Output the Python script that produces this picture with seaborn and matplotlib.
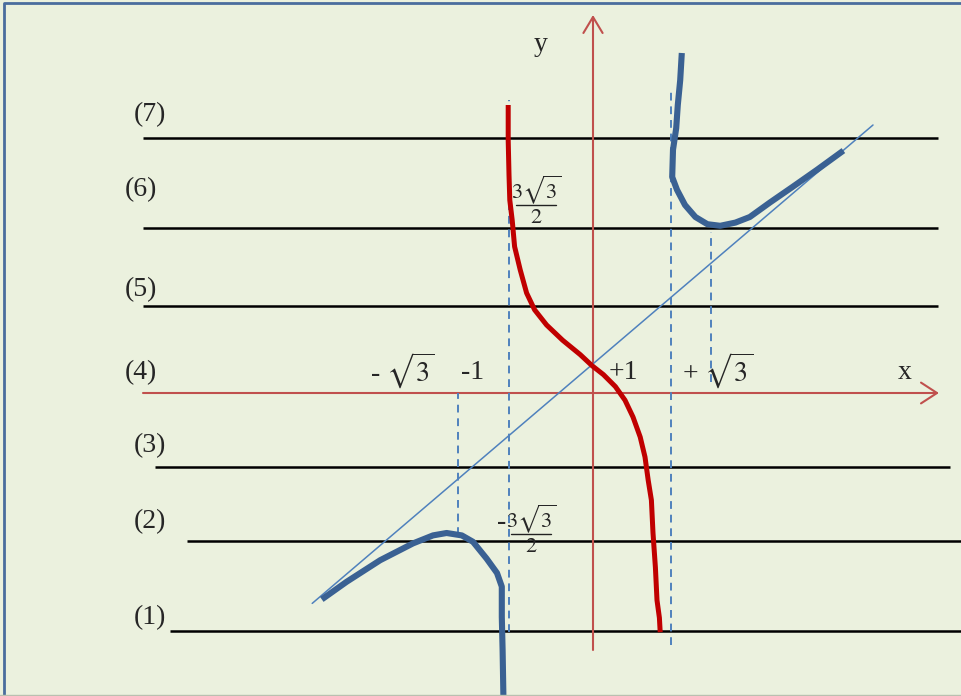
import numpy as np
import pandas as pd
import matplotlib.pyplot as plt
import seaborn as sns

# curve points (1 unit ~ 80 px, origin where the axes cross)
red_x = [-1.06, -1.06, -1.05, -1.04, -1.01, -0.98, -0.91, -0.83, -0.73, -0.58,
         -0.38, -0.16, -0.01, 0.13, 0.28, 0.40, 0.50, 0.59, 0.65, 0.69,
         0.73, 0.75, 0.78, 0.80, 0.83, 0.84]
red_y = [3.60, 3.16, 2.73, 2.41, 2.16, 1.83, 1.54, 1.25, 1.04, 0.85,
         0.66, 0.48, 0.34, 0.23, 0.08, -0.09, -0.30, -0.55, -0.80, -1.09,
         -1.34, -1.75, -2.18, -2.59, -2.81, -2.99]

left_x = [-3.39, -3.08, -2.66, -2.25, -2.00, -1.83, -1.64, -1.50, -1.33, -1.20,
          -1.14, -1.14, -1.13, -1.12]
left_y = [-2.58, -2.36, -2.09, -1.88, -1.78, -1.75, -1.78, -1.86, -2.07, -2.25,
          -2.42, -2.80, -3.21, -3.79]

right_x = [1.11, 1.09, 1.06, 1.04, 1.00, 0.99, 1.05, 1.15, 1.28, 1.43,
           1.59, 1.78, 1.96, 2.21, 2.50, 2.80, 3.13]
right_y = [4.25, 3.91, 3.60, 3.31, 3.04, 2.70, 2.54, 2.35, 2.20, 2.11,
           2.09, 2.13, 2.20, 2.38, 2.58, 2.79, 3.03]

# oblique asymptote end points
obl_x = [-3.51, 3.50]
obl_y = [-2.63, 3.35]

# horizontal levels (1)..(7), (4) is the x axis
level_names = ['(1)', '(2)', '(3)', '(4)', '(5)', '(6)', '(7)']
level_y = [-2.98, -1.85, -0.93, 0.0, 1.09, 2.06, 3.19]
level_x0 = [-5.29, -5.08, -5.48, None, -5.62, -5.62, -5.62]
level_x1 = [4.62, 4.62, 4.46, None, 4.31, 4.31, 4.31]
label_pos = [(-5.54, -2.81), (-5.54, -1.61), (-5.54, -0.66), (-5.65, 0.26),
             (-5.65, 1.29), (-5.65, 2.54), (-5.54, 3.48)]

# dashed verticals: x, y bottom, y top
dash_x = [-1.69, -1.05, 0.975, 1.475]
dash_y0 = [-1.78, -2.99, -3.15, 0.14]
dash_y1 = [0.0, 3.66, 3.76, 2.01]

tick_text = ['- $\\sqrt{3}$', '-1', '+1', '+ $\\sqrt{3}$']
tick_pos = [(-2.38, 0.28), (-1.51, 0.26), (0.38, 0.26), (1.56, 0.28)]

bg = '#EBF1DE'
sns.set_theme(style='white')
plt.rcParams['font.family'] = ['Liberation Serif', 'DejaVu Serif']
plt.rcParams['mathtext.fontset'] = 'stix'

fig = plt.figure(figsize=(9.62, 6.96), dpi=100, facecolor=bg)
ax = fig.add_axes([0, 0, 1, 1])
ax.set_facecolor(bg)
ax.set_xlim(-593 / 80, (962 - 593) / 80)
ax.set_ylim((393 - 696) / 80, 393 / 80)
ax.axis('off')

# horizontal black lines
for y, a, b in zip(level_y, level_x0, level_x1):
    if a is not None:
        ax.hlines(y, a, b, color='black', lw=1.8)

for name, (tx, ty) in zip(level_names, label_pos):
    ax.text(tx, ty, name, fontsize=20, ha='center', va='center')

# axes in red
axc = '#C0504D'
ax.plot([-5.62, 4.3], [0, 0], color=axc, lw=1.5)
ax.plot([4.1, 4.3, 4.1], [0.13, 0, -0.13], color=axc, lw=1.5)
ax.plot([0, 0], [-3.21, 4.7], color=axc, lw=1.5)
ax.plot([-0.12, 0, 0.12], [4.5, 4.7, 4.5], color=axc, lw=1.5)
ax.text(3.9, 0.26, 'x', fontsize=20, ha='center', va='center')
ax.text(-0.66, 4.35, 'y', fontsize=20, ha='center', va='center')

# dashed verticals
for x, a, b in zip(dash_x, dash_y0, dash_y1):
    ax.vlines(x, a, b, color='#4F81BD', lw=1.4, linestyles=(0, (4, 3)))

# oblique asymptote
ax.plot(obl_x, obl_y, color='#4F81BD', lw=1.1)

# curve branches
kw = dict(sort=False, estimator=None, solid_joinstyle='round', solid_capstyle='butt', ax=ax)
sns.lineplot(x=left_x, y=left_y, color='#3A6193', lw=4.4, **kw)
sns.lineplot(x=right_x, y=right_y, color='#3A6193', lw=4.4, **kw)
sns.lineplot(x=red_x, y=red_y, color='#C00000', lw=3.6, **kw)

for t, (tx, ty) in zip(tick_text, tick_pos):
    ax.text(tx, ty, t, fontsize=20, ha='center', va='center')

# fractions 3*sqrt(3)/2 written by hand: numerator, bar, denominator
def frac(xc, yc, ax):
    ax.text(xc, yc + 0.19, '$3\\sqrt{3}$', fontsize=16, ha='center', va='center')
    ax.plot([xc - 0.25, xc + 0.25], [yc, yc], color='#222222', lw=1.0)
    ax.text(xc, yc - 0.17, '$2$', fontsize=16, ha='center', va='center')

frac(-0.71, 2.35, ax)
frac(-0.77, -1.76, ax)
ax.text(-1.14, -1.62, '-', fontsize=20, ha='center', va='center')

# frame of the original picture
ax.plot([0.004, 0.004, 1.0], [0.0, 0.996, 0.996], color='#4A6D9E', lw=2,
        transform=ax.transAxes, clip_on=False)
ax.plot([0.0, 1.0], [0.002, 0.002], color='#B9C0B0', lw=1,
        transform=ax.transAxes, clip_on=False)

fig.savefig('out.png', dpi=100, facecolor=bg)
